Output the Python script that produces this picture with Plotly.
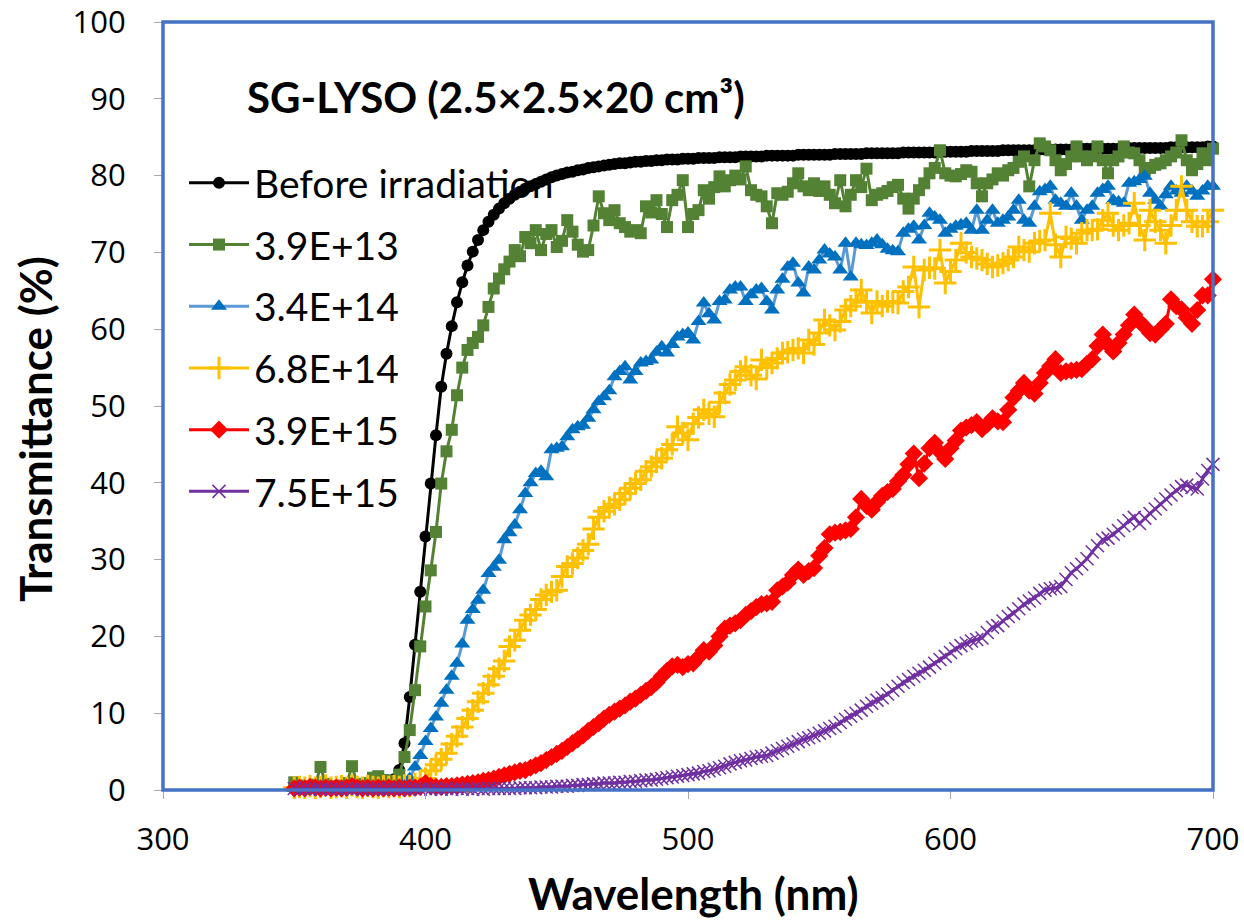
import plotly.graph_objects as go

wavelength = list(range(350, 701, 2))

before_irr = [
    0.3, 0.3, 0.4, 0.3, 0.3, 0.4, 0.3, 0.3, 0.4, 0.3,
    0.3, 0.4, 0.3, 0.4, 0.3, 0.4, 0.5, 0.6, 0.9, 1.4,
    2.6, 6.1, 12.1, 18.9, 25.8, 33.0, 39.9, 46.2, 52.5, 56.8,
    60.4, 63.5, 66.1, 68.3, 70.1, 71.6, 72.9, 74.0, 74.9, 75.7,
    76.4, 77.0, 77.5, 77.9, 78.3, 78.6, 78.9, 79.2, 79.5, 79.8,
    80.0, 80.2, 80.4, 80.5, 80.7, 80.8, 81.0, 81.1, 81.2, 81.3,
    81.4, 81.5, 81.6, 81.6, 81.7, 81.8, 81.8, 81.9, 81.9, 82.0,
    82.0, 82.1, 82.1, 82.1, 82.2, 82.2, 82.2, 82.3, 82.3, 82.3,
    82.3, 82.4, 82.4, 82.4, 82.4, 82.5, 82.5, 82.5, 82.5, 82.5,
    82.6, 82.6, 82.6, 82.6, 82.6, 82.6, 82.7, 82.7, 82.7, 82.7,
    82.7, 82.7, 82.7, 82.8, 82.8, 82.8, 82.8, 82.8, 82.8, 82.9,
    82.9, 82.9, 82.9, 82.9, 82.9, 82.9, 83.0, 83.0, 83.0, 83.0,
    83.0, 83.0, 83.0, 83.1, 83.1, 83.1, 83.1, 83.1, 83.1, 83.2,
    83.2, 83.2, 83.2, 83.2, 83.2, 83.3, 83.3, 83.3, 83.3, 83.3,
    83.3, 83.3, 83.4, 83.4, 83.4, 83.4, 83.4, 83.4, 83.4, 83.5,
    83.5, 83.5, 83.5, 83.5, 83.5, 83.5, 83.5, 83.5, 83.6, 83.6,
    83.6, 83.6, 83.6, 83.6, 83.6, 83.6, 83.6, 83.7, 83.7, 83.7,
    83.7, 83.7, 83.7, 83.7, 83.8, 83.8,
]

dose_39e13 = [
    1.0, 0.6, 0.4, 0.5, 0.7, 3.0, 0.8, 0.5, 0.4, 0.6,
    0.9, 3.1, 0.8, 0.6, 0.9, 1.6, 1.8, 1.3, 1.0, 1.2,
    2.0, 4.3, 7.8, 13.0, 18.7, 23.9, 28.6, 33.6, 39.9, 44.1,
    46.9, 51.4, 55.0, 57.3, 58.2, 59.0, 60.5, 62.9, 65.3, 66.6,
    67.8, 68.8, 70.3, 69.5, 72.0, 71.2, 72.9, 70.3, 72.4, 72.9,
    70.7, 71.5, 74.2, 72.7, 71.0, 70.1, 70.3, 73.5, 77.3, 75.1,
    74.2, 75.5, 73.8, 73.3, 72.7, 72.9, 72.5, 76.0, 75.2, 76.8,
    75.0, 73.3, 76.8, 77.5, 79.4, 73.3, 75.0, 75.5, 78.1, 77.0,
    78.5, 79.9, 78.6, 79.4, 80.0, 79.5, 81.2, 78.1, 77.5, 77.3,
    76.0, 73.8, 77.7, 77.5, 77.9, 79.0, 80.3, 78.6, 78.1, 79.0,
    78.0, 78.6, 77.5, 76.4, 79.4, 76.0, 77.5, 79.4, 78.5, 80.9,
    76.8, 77.5, 77.7, 78.0, 78.5, 78.8, 77.0, 75.7, 77.0, 78.1,
    79.0, 80.3, 81.0, 83.3, 80.3, 80.0, 79.9, 80.2, 80.7, 80.5,
    79.0, 77.3, 79.0, 79.5, 80.3, 80.0, 80.7, 81.0, 81.8, 82.5,
    78.6, 82.0, 84.2, 83.8, 83.3, 82.0, 80.7, 81.5, 82.5, 83.8,
    82.5, 82.0, 82.5, 83.8, 82.0, 80.3, 82.0, 82.5, 83.8, 83.0,
    82.9, 82.0, 80.7, 81.0, 81.4, 81.6, 82.0, 82.5, 83.0, 84.6,
    82.0, 80.7, 81.5, 82.9, 82.0, 83.5,
]

dose_34e14 = [
    0.2, 0.3, 0.2, 0.3, 0.4, 0.3, 0.2, 0.3, 0.3, 0.2,
    0.3, 0.2, 0.3, 0.3, 0.2, 0.3, 0.2, 0.3, 0.4, 0.5,
    0.6, 0.9, 1.5, 3.0, 4.5, 6.3, 8.0, 9.5, 11.3, 13.0,
    14.8, 16.5, 19.0, 22.1, 23.5, 24.7, 26.0, 28.2, 29.0, 29.9,
    32.6, 33.5, 34.5, 36.5, 38.6, 40.0, 41.2, 41.5, 40.8, 44.3,
    44.5, 44.7, 46.0, 46.9, 47.3, 47.5, 48.4, 49.5, 50.6, 51.2,
    52.0, 53.8, 54.5, 55.1, 53.4, 54.5, 55.6, 55.8, 56.0, 57.0,
    57.7, 56.9, 58.0, 59.0, 59.3, 59.5, 58.6, 61.0, 63.4, 62.0,
    61.2, 63.6, 63.8, 65.1, 65.5, 65.5, 63.6, 64.5, 65.1, 65.3,
    63.6, 62.5, 65.1, 66.5, 68.1, 68.6, 66.0, 64.7, 68.1, 67.7,
    69.0, 70.3, 69.8, 69.4, 67.7, 71.2, 66.8, 71.2, 71.0, 70.9,
    71.2, 71.6, 71.0, 70.4, 70.2, 70.1, 72.5, 73.0, 73.4, 71.6,
    73.5, 75.1, 74.6, 74.2, 72.5, 73.0, 73.4, 73.6, 73.8, 72.9,
    75.5, 72.9, 74.2, 75.5, 73.8, 74.2, 74.6, 75.5, 76.8, 74.2,
    73.8, 76.0, 77.9, 78.2, 78.6, 76.8, 76.4, 76.0, 77.7, 76.0,
    74.2, 75.5, 76.0, 77.7, 78.2, 78.6, 76.8, 76.6, 76.4, 79.0,
    79.2, 79.5, 79.9, 77.7, 76.8, 76.0, 77.5, 78.6, 78.0, 77.7,
    78.6, 78.0, 77.3, 78.0, 78.6, 78.6,
]

dose_68e14 = [
    0.3, 0.4, 0.3, 0.5, 0.3, 0.4, 0.6, 0.3, 0.4, 0.5,
    0.3, 0.6, 0.4, 0.3, 0.5, 0.4, 0.3, 0.5, 0.4, 0.5,
    0.4, 0.6, 0.5, 0.8, 1.0, 1.5, 2.5, 3.3, 4.0, 4.8,
    6.0, 7.0, 8.2, 9.3, 10.4, 11.5, 12.6, 13.7, 14.8, 15.8,
    16.8, 18.7, 19.5, 20.8, 22.1, 22.8, 23.5, 24.8, 25.4, 25.8,
    26.0, 27.8, 29.1, 29.5, 30.2, 31.2, 32.0, 34.0, 35.5, 36.3,
    36.8, 37.2, 37.8, 38.6, 39.3, 39.9, 40.4, 41.5, 42.1, 42.7,
    43.2, 44.3, 45.0, 47.3, 46.5, 45.6, 47.7, 48.5, 49.5, 49.0,
    48.6, 50.5, 51.7, 52.8, 53.4, 54.5, 55.1, 54.0, 53.5, 56.0,
    55.0, 55.6, 56.2, 56.9, 57.0, 57.3, 57.5, 56.9, 58.6, 58.0,
    59.5, 61.2, 60.5, 59.9, 61.0, 62.5, 63.0, 63.8, 65.1, 63.5,
    62.1, 63.6, 63.0, 63.6, 63.5, 63.4, 64.9, 65.5, 68.1, 62.9,
    67.7, 68.0, 67.9, 70.3, 66.0, 67.5, 69.0, 71.2, 70.0, 69.4,
    69.2, 69.0, 68.5, 68.1, 68.3, 68.6, 69.0, 69.4, 70.7, 70.3,
    70.1, 71.2, 71.5, 71.6, 75.1, 71.0, 69.4, 72.0, 71.8, 71.2,
    72.5, 72.9, 72.9, 73.0, 74.2, 75.1, 73.5, 72.9, 73.5, 73.8,
    76.4, 73.5, 71.6, 75.5, 74.0, 72.9, 71.2, 73.5, 75.5, 78.6,
    75.5, 74.0, 73.4, 73.4, 74.0, 75.5,
]

dose_39e15 = [
    0.2, 0.3, 0.2, 0.4, 0.3, 0.2, 0.3, 0.2, 0.3, 0.2,
    0.3, 0.5, 0.3, 0.2, 0.3, 0.2, 0.3, 0.2, 0.3, 0.2,
    0.3, 0.2, 0.3, 0.3, 0.4, 0.9, 0.5, 0.4, 0.4, 0.5,
    0.5, 0.6, 0.7, 0.8, 0.9, 1.0, 1.2, 1.3, 1.5, 1.7,
    1.9, 2.1, 2.3, 2.5, 2.6, 2.9, 3.2, 3.5, 3.9, 4.3,
    4.7, 5.1, 5.6, 6.1, 6.6, 7.1, 7.7, 8.2, 8.7, 9.3,
    9.8, 10.2, 10.6, 11.0, 11.5, 11.9, 12.4, 12.9, 13.4, 14.0,
    14.8, 15.5, 16.1, 16.3, 16.0, 16.4, 16.5, 17.3, 18.2, 18.0,
    18.8, 20.0, 21.0, 21.4, 21.7, 22.1, 22.8, 23.3, 23.8, 24.2,
    24.3, 24.5, 26.0, 26.5, 27.0, 28.0, 28.7, 28.0, 28.5, 28.9,
    30.5, 31.5, 33.3, 33.5, 33.6, 33.8, 34.0, 35.5, 37.9, 37.0,
    36.5, 37.5, 38.3, 38.8, 39.2, 40.2, 41.0, 42.4, 43.8, 40.6,
    42.5, 44.5, 45.2, 44.0, 43.1, 44.5, 45.5, 46.8, 47.2, 47.5,
    47.9, 47.0, 47.6, 48.4, 48.0, 47.9, 49.5, 51.1, 52.0, 53.0,
    52.0, 51.6, 53.0, 54.3, 55.2, 56.1, 54.3, 54.5, 54.6, 54.7,
    54.8, 55.5, 56.1, 57.8, 59.3, 58.0, 57.1, 58.2, 59.3, 60.5,
    61.9, 61.0, 60.3, 59.5, 59.3, 60.0, 60.7, 63.9, 63.0, 62.6,
    61.5, 60.7, 62.5, 64.4, 64.4, 66.5,
]

dose_75e15 = [
    0.2, 0.1, 0.2, 0.1, 0.2, 0.1, 0.2, 0.1, 0.2, 0.1,
    0.2, 0.1, 0.2, 0.1, 0.2, 0.1, 0.2, 0.1, 0.2, 0.1,
    0.1, 0.2, 0.1, 0.2, 0.1, 0.2, 0.1, 0.2, 0.1, 0.2,
    0.1, 0.2, 0.1, 0.2, 0.1, 0.2, 0.1, 0.2, 0.2, 0.2,
    0.2, 0.2, 0.2, 0.3, 0.3, 0.3, 0.3, 0.4, 0.4, 0.4,
    0.5, 0.5, 0.5, 0.6, 0.6, 0.7, 0.7, 0.8, 0.8, 0.9,
    0.9, 0.9, 1.0, 1.0, 1.1, 1.1, 1.2, 1.3, 1.3, 1.4,
    1.5, 1.6, 1.7, 1.8, 1.9, 2.0, 2.1, 2.2, 2.4, 2.5,
    2.7, 2.9, 3.1, 3.4, 3.6, 3.8, 3.9, 4.1, 4.3, 4.4,
    4.5, 4.8, 5.1, 5.4, 5.7, 6.0, 6.3, 6.6, 6.8, 7.1,
    7.4, 7.7, 8.0, 8.3, 8.8, 9.2, 9.6, 10.0, 10.4, 10.9,
    11.3, 11.7, 12.0, 12.5, 13.0, 13.5, 14.0, 14.4, 14.8, 15.2,
    15.6, 16.0, 16.5, 17.0, 17.4, 17.9, 18.4, 18.8, 19.1, 19.4,
    19.6, 19.8, 20.5, 21.2, 21.4, 22.0, 22.6, 23.0, 23.6, 24.2,
    24.6, 25.0, 25.6, 26.0, 26.2, 26.3, 26.5, 27.4, 28.3, 28.8,
    29.4, 30.1, 31.0, 31.8, 32.6, 32.8, 33.3, 33.8, 34.4, 35.1,
    35.5, 34.7, 35.4, 36.0, 36.6, 37.2, 37.9, 38.4, 39.0, 39.5,
    39.7, 39.4, 39.2, 40.5, 41.6, 42.4,
]

series_names = ["Before irradiation", "3.9E+13", "3.4E+14", "6.8E+14", "3.9E+15", "7.5E+15"]
x_ticks = [300, 400, 500, 600, 700]
y_ticks = [0, 10, 20, 30, 40, 50, 60, 70, 80, 90, 100]

styles = [
    dict(line_color="#000000", marker=dict(symbol="circle", size=12, color="#000000")),
    dict(line_color="#548235", marker=dict(symbol="square", size=12, color="#548235")),
    dict(line_color="#5B9BD5", marker=dict(symbol="triangle-up", size=14, color="#0070C0")),
    dict(line_color="#FFC000", marker=dict(symbol="cross-thin", size=16, color="#FFC000",
                                            line=dict(color="#FFC000", width=3))),
    dict(line_color="#FF0000", marker=dict(symbol="diamond", size=14, color="#FF0000")),
    dict(line_color="#7030A0", marker=dict(symbol="x-thin", size=13, color="#7030A0",
                                            line=dict(color="#7030A0", width=1.5))),
]

all_series = [before_irr, dose_39e13, dose_34e14, dose_68e14, dose_39e15, dose_75e15]

fig = go.Figure()
for i, (name, vals, st) in enumerate(zip(series_names, all_series, styles)):
    fig.add_trace(go.Scatter(
        x=wavelength, y=vals, name=name, mode="lines+markers",
        line=dict(color=st["line_color"], width=3),
        marker=st["marker"], cliponaxis=False, legendgroup=f"g{i}",
    ))

font_main = "Lato, 'Open Sans', sans-serif"

fig.update_layout(
    width=1244, height=924,
    margin=dict(l=163, r=31, t=22, b=134, autoexpand=False),
    paper_bgcolor="white", plot_bgcolor="white",
    font=dict(family=font_main, color="black"),
    showlegend=True,
    legend=dict(
        x=0.02, y=0.832, xanchor="left", yanchor="top",
        bgcolor="rgba(0,0,0,0)", font=dict(size=39, family=font_main),
        tracegroupgap=8, itemwidth=60,
    ),
    xaxis=dict(
        range=[300, 700], tickvals=x_ticks, showgrid=False, zeroline=False,
        showline=True, linecolor="#A6A6A6", linewidth=1, automargin=False,
        ticks="outside", ticklen=8, tickcolor="#A6A6A6", tickwidth=1,
        tickfont=dict(size=31, family="'Open Sans', sans-serif"),
        ticklabelstandoff=14, ticklabeloverflow="allow",
    ),
    yaxis=dict(
        range=[0, 100], tickvals=y_ticks, showgrid=False, zeroline=False,
        showline=True, linecolor="#A6A6A6", linewidth=1, automargin=False,
        ticks="outside", ticklen=8, tickcolor="#A6A6A6", tickwidth=1,
        tickfont=dict(size=31, family="'Open Sans', sans-serif"),
        ticklabelstandoff=22, ticklabeloverflow="allow",
    ),
    shapes=[dict(type="rect", xref="x domain", yref="y domain", x0=0, x1=1, y0=0, y1=1,
                 line=dict(color="#4472C4", width=3.5), layer="above")],
    annotations=[
        dict(text="<b>SG-LYSO (2.5×2.5×20 cm³)</b>", xref="paper", yref="paper",
             x=0.078, y=0.902, xanchor="left", yanchor="middle", showarrow=False,
             font=dict(size=42, family=font_main, color="black")),
        dict(text="<b>Wavelength (nm)</b>", xref="paper", yref="paper",
             x=0.505, y=-0.134, xanchor="center", yanchor="middle", showarrow=False,
             font=dict(size=44, family=font_main, color="black")),
        dict(text="<b>Transmittance (%)</b>", xref="paper", yref="paper",
             x=-0.122, y=0.47, xanchor="center", yanchor="middle", showarrow=False,
             textangle=-90, font=dict(size=44, family=font_main, color="black")),
    ],
)

fig.write_html("out.html")
